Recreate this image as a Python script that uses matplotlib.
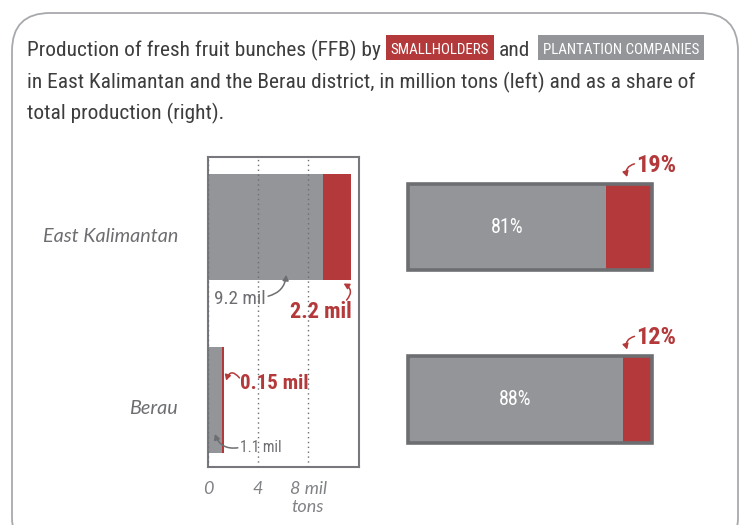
import matplotlib
matplotlib.use("Agg")
import matplotlib.pyplot as plt
import matplotlib.transforms as mtransforms
from matplotlib import font_manager
from matplotlib.patches import FancyBboxPatch, Rectangle
from matplotlib.text import Text

# values
regions = ["East Kalimantan", "Berau"]
companies_mil = [9.2, 1.1]
smallholders_mil = [2.2, 0.15]
companies_pct = [81, 88]
smallholders_pct = [19, 12]
ton_ticks = [0, 4, 8]
ton_labels = ["0", "4", "8 mil\ntons"]

RED = "#b4393a"
GRAY = "#939598"
DARK = "#6d6e71"
INK = "#3d3d3d"

installed = {f.name for f in font_manager.fontManager.ttflist}
NARROW = next((n for n in ["Liberation Sans Narrow", "Roboto Condensed",
                           "Open Sans Condensed"] if n in installed), "Roboto")
BODY = "Lato" if "Lato" in installed else "DejaVu Sans"

W, H = 742, 525
PX = mtransforms.IdentityTransform()

fig = plt.figure(figsize=(W / 100, H / 100), dpi=100)
renderer = fig.canvas.get_renderer()


def fit(t, width):
    """Scale a text's font size so it is `width` pixels wide."""
    w = Text.get_window_extent(t, renderer).width
    t.set_fontsize(t.get_fontsize() * width / w)
    return t


def right_edge(t):
    return Text.get_window_extent(t, renderer).x1


# outer rounded frame
fig.add_artist(FancyBboxPatch((0.12, -0.3), 7.26, 5.42,
                              boxstyle="round,pad=0,rounding_size=0.38",
                              transform=fig.dpi_scale_trans, fc="none",
                              ec="#a7a9ac", lw=1.3, zorder=0))

# title, built piece by piece
line2 = fig.text(27, H - 88, "in East Kalimantan and the Berau district, in "
                 "million tons (left) and as a share of", transform=PX,
                 family=NARROW, color=INK, fontsize=14, va="baseline")
fit(line2, 672)
size = line2.get_fontsize()
fig.text(27, H - 119, "total production (right).", transform=PX,
         family=NARROW, color=INK, fontsize=size, va="baseline")
part = fig.text(27, H - 56, "Production of fresh fruit bunches (FFB) by",
                transform=PX, family=NARROW, color=INK, fontsize=size,
                va="baseline")
x = right_edge(part) + 5
tag_size = None
for tag, fill in [("SMALLHOLDERS", RED), ("PLANTATION COMPANIES", GRAY)]:
    t = fig.text(x + 5, H - 54, tag, transform=PX, family=NARROW,
                 color="white", fontsize=10, va="baseline", zorder=3)
    if tag_size is None:
        fit(t, 100)
        tag_size = t.get_fontsize()
    else:
        t.set_fontsize(tag_size)
    x1 = right_edge(t) + 5
    fig.add_artist(Rectangle((x, H - 60), x1 - x, 25, transform=PX,
                             fc=fill, ec="none", zorder=1))
    if fill == RED:
        part = fig.text(x1 + 5, H - 56, "and", transform=PX, family=NARROW,
                        color=INK, fontsize=size, va="baseline")
        x = right_edge(part) + 7

# left panel: tons
ypos = [1, 0]
ax = fig.add_axes([208 / W, 1 - 467 / H, 151 / W, 310 / H])
ax.barh(ypos, companies_mil, height=0.615, color=GRAY, zorder=1)
ax.barh(ypos, smallholders_mil, left=companies_mil, height=0.615,
        color=RED, zorder=1)
ax.set_xlim(0, 12.08)
ax.set_ylim(-0.391, 1.406)
ax.set_axisbelow(False)
ax.grid(axis="x", color=DARK, linestyle=(0, (1, 2.5)), linewidth=1)
ax.set_xticks(ton_ticks, ton_labels)
ax.set_yticks([])
ax.tick_params(axis="x", length=0, pad=10, labelcolor="#808285",
               labelsize=13)
for lab in ax.get_xticklabels():
    lab.set_fontstyle("italic")
    lab.set_family(BODY)
for s in ax.spines.values():
    s.set_color("#77787b")
    s.set_linewidth(1.5)

for y, name in zip(ypos, regions):
    t = ax.annotate(name, xy=(0, y), xycoords=("axes fraction", "data"),
                    xytext=(-30, -9), textcoords="offset pixels", ha="right",
                    va="center", color=DARK, family=BODY, style="italic",
                    fontsize=13)
    if name == regions[0]:
        fit(t, 135)
        cat_size = t.get_fontsize()
    else:
        t.set_fontsize(cat_size)

# right panel: shares
totals = [c + s for c, s in zip(companies_pct, smallholders_pct)]
ax2 = fig.add_axes([408 / W, 1 - 467 / H, 244 / W, 310 / H])
ax2.barh(ypos, companies_pct, height=0.5, color=GRAY)
ax2.barh(ypos, smallholders_pct, left=companies_pct, height=0.5, color=RED)
ax2.barh(ypos, totals, height=0.5, fill=False, edgecolor=DARK,
         linewidth=2.6, clip_on=False)
ax2.set_xlim(0, 100)
ax2.set_ylim(-0.391, 1.406)
ax2.axis("off")
for y, c in zip(ypos, companies_pct):
    t = ax2.text(c / 2, y, f"{c}%", ha="center", va="center", color="white",
                 family=NARROW, fontsize=14)
    fit(t, 33)


def note(axis, text, xy, offset, color, bold, width, rad, relpos, ha):
    a = axis.annotate(text, xy=xy, xytext=offset, textcoords="offset pixels",
                      ha=ha, va="center", color=color, family=NARROW,
                      fontweight="bold" if bold else "normal", fontsize=14,
                      annotation_clip=False,
                      arrowprops=dict(arrowstyle="-|>,head_length=0.45,"
                                      "head_width=0.25",
                                      color=color, lw=1.1, mutation_scale=7,
                                      shrinkA=0, shrinkB=0, patchA=None,
                                      relpos=relpos,
                                      connectionstyle=f"arc3,rad={rad}"))
    fit(a, width)


half = 0.615 / 2
note(ax, f"{companies_mil[0]} mil", (companies_mil[0] * 0.68, 1 - half + 0.03),
     (-46, -24), DARK, False, 52, 0.35, (1.04, 0.65), "center")
note(ax, f"{smallholders_mil[0]} mil",
     (companies_mil[0] + smallholders_mil[0] * 0.75, 1 - half - 0.02),
     (-23, -28), RED, True, 62, 0.6, (0.92, 1.02), "center")
note(ax, f"{smallholders_mil[1]} mil",
     (companies_mil[1] + smallholders_mil[1] + 0.2, 0.11),
     (14, -3), RED, True, 69, 0.9, (-0.01, 0.8), "left")
note(ax, f"{companies_mil[1]} mil", (companies_mil[1] * 0.5, -0.2),
     (25, -13), DARK, False, 42, -0.4, (-0.05, 0.45), "left")
for y, s in zip(ypos, smallholders_pct):
    note(ax2, f"{s}%", (100 - 10.2, y + 0.25 + 0.04), (29, 12), RED, True,
         40, 0.5, (-0.04, 0.55), "center")

fig.savefig("out.png", dpi=100)
